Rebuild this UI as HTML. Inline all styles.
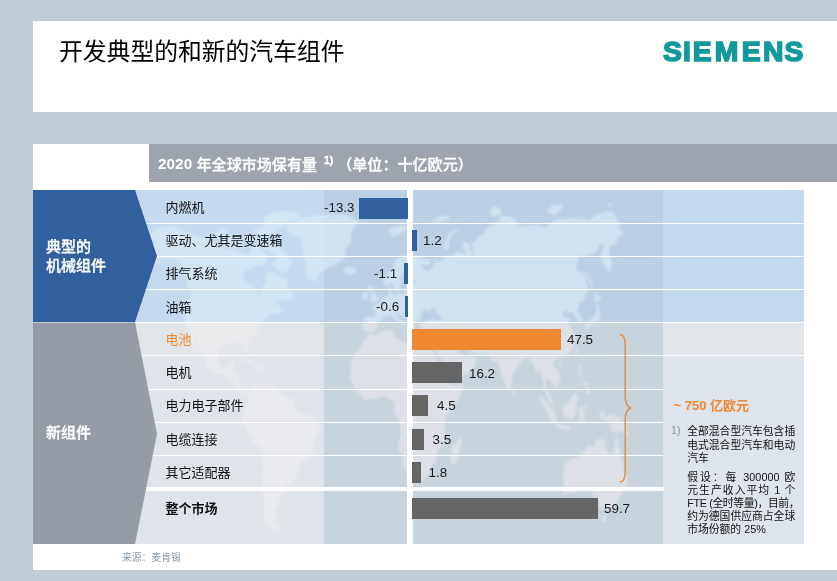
<!DOCTYPE html>
<html lang="zh-CN">
<head>
<meta charset="utf-8">
<title>开发典型的和新的汽车组件</title>
<style>
html,body{margin:0;padding:0;}
body{width:837px;height:581px;overflow:hidden;background:#c0cdd7;position:relative;
  font-family:"Liberation Sans","Noto Sans CJK SC",sans-serif;color:#111;}
.abs{position:absolute;}
#titlebox{left:33px;top:21px;width:804px;height:91px;background:#fff;}
#title{left:59px;top:36px;font-size:23.8px;line-height:32px;white-space:nowrap;color:#000;}
#panel{left:33px;top:144px;width:804px;height:426px;background:#fff;}
#hdr{left:149px;top:144px;width:688px;height:38px;background:#9da4ad;}
#hdrtxt{left:158px;top:155px;font-size:15px;letter-spacing:0.06px;line-height:20px;font-weight:500;-webkit-text-stroke:0.3px #fff;color:#fff;white-space:nowrap;}
#hdrtxt sup{font-size:10.5px;line-height:0;vertical-align:6px;font-weight:bold;margin:0 4px 0 2.5px;}
#hdrtxt b{letter-spacing:0.05px;position:relative;top:-1.2px;-webkit-text-stroke:0;font-size:15.3px;}
.bg{position:absolute;}
.sep{position:absolute;background:#fff;height:1px;left:33px;width:771px;}
.sepm{position:absolute;background:#fff;height:1px;left:33px;width:630px;}
.lab{position:absolute;left:165.5px;font-size:13px;line-height:18px;white-space:nowrap;color:#111;}
.num{position:absolute;font-size:13.4px;line-height:18px;white-space:nowrap;color:#1a1a1a;}
.bar{position:absolute;height:21px;}
.blue{background:#31609e;}
.dark{background:#656565;}
.org{background:#f08832;}
.side{position:absolute;left:46px;font-size:15px;line-height:18.6px;font-weight:500;-webkit-text-stroke:0.3px #fff;color:#fff;white-space:nowrap;}
#notes{left:673.5px;top:397px;color:#f08832;font-weight:bold;font-size:13px;line-height:18px;white-space:nowrap;}
.note{position:absolute;left:687.2px;width:108px;font-size:10.8px;line-height:13.8px;color:#111;}
.note div{white-space:nowrap;text-align:justify;text-align-last:justify;}
.note div.l{text-align-last:left;}
.n2{line-height:13px !important;}
#src{left:122px;top:551.3px;font-size:9.8px;line-height:14px;color:#8a9aa8;white-space:nowrap;}
</style>
</head>
<body>
<div id="titlebox" class="abs"></div>
<div id="title" class="abs">开发典型的和新的汽车组件</div>
<svg id="logo" class="abs" style="left:655px;top:30px;" width="160" height="44" viewBox="0 0 160 44"><text x="7.9 27.9 37.7 59.7 86.8 107.9 129.4" y="30.6" font-family="Liberation Sans, sans-serif" font-weight="bold" font-size="28.3" fill="#11999e" stroke="#11999e" stroke-width="1.6" stroke-linejoin="miter">SIEMENS</text></svg>

<div id="panel" class="abs"></div>
<div id="hdr" class="abs"></div>
<div id="hdrtxt" class="abs"><b>2020 </b>年全球市场保有量 <sup>1)</sup>（单位：十亿欧元）</div>

<!-- chart backgrounds -->
<div class="bg" style="left:33px;top:190px;width:291px;height:132px;background:#c5daee;"></div>
<div class="bg" style="left:324px;top:190px;width:339px;height:132px;background:#bccfe4;"></div>
<div class="bg" style="left:663px;top:190px;width:141px;height:132px;background:#c3d9ed;"></div>
<div class="bg" style="left:33px;top:322px;width:291px;height:222px;background:#dfe4ea;"></div>
<div class="bg" style="left:324px;top:322px;width:339px;height:222px;background:#c7d3dd;"></div>
<div class="bg" style="left:663px;top:322px;width:141px;height:222px;background:#dee4eb;"></div>
<div class="bg" style="left:33px;top:322px;width:291px;height:33px;background:#e2e5e8;"></div>
<div class="bg" style="left:663px;top:322px;width:141px;height:33px;background:#e1e5e9;"></div>

<!-- faint world map -->
<svg class="abs" style="left:0;top:0;" width="837" height="581" viewBox="0 0 837 581">
  <defs>
    <filter id="soft" x="0" y="0" width="837" height="581" filterUnits="userSpaceOnUse"><feGaussianBlur stdDeviation="0.9"/></filter>
    <path id="land" d="M148.6 235.4 L155.3 228.7 L172.4 224.9 L190.5 233.9 L207.6 238.4 L222.4 248.2 L231.7 250.1 L248.6 254.7 L254.0 242.1 L263.5 251.3 L267.7 256.3 L263.4 266.4 L256.6 265.5 L244.6 271.3 L242.6 277.0 L244.4 280.7 L253.5 285.3 L256.3 291.4 L258.3 295.7 L260.2 294.1 L261.9 287.4 L265.6 284.4 L265.7 278.7 L267.9 270.8 L274.6 272.7 L278.2 275.5 L284.4 279.5 L286.2 277.9 L288.0 286.5 L293.1 294.6 L294.0 297.9 L287.5 300.8 L278.5 300.1 L271.2 306.2 L279.4 303.5 L279.3 307.9 L284.3 310.4 L275.9 314.3 L269.7 313.9 L268.3 317.6 L262.3 320.1 L258.0 326.5 L258.0 331.7 L253.5 334.5 L247.9 339.4 L248.1 349.4 L246.8 353.4 L244.7 350.4 L244.3 343.6 L240.8 343.0 L234.6 341.5 L232.6 343.7 L226.2 342.6 L220.6 346.9 L218.6 354.8 L217.9 360.5 L219.7 366.3 L221.9 368.2 L227.0 367.7 L229.2 362.1 L235.1 361.2 L233.6 367.9 L231.4 373.5 L238.9 374.1 L239.3 384.9 L241.3 389.4 L245.5 388.3 L248.8 390.6 L247.8 393.9 L244.5 393.2 L239.5 390.9 L235.5 387.0 L232.6 380.2 L226.9 377.8 L222.3 372.7 L217.3 373.5 L210.9 370.5 L204.9 364.5 L205.0 357.5 L202.0 350.4 L196.9 341.8 L196.4 336.6 L193.5 336.8 L195.5 345.3 L198.1 353.7 L197.8 356.0 L195.4 350.0 L192.4 343.9 L191.2 337.8 L190.3 333.0 L186.1 327.8 L185.1 322.1 L184.1 314.1 L186.3 307.0 L188.8 299.3 L192.0 294.6 L189.7 290.0 L187.3 285.8 L186.6 277.9 L185.4 269.9 L181.7 265.9 L178.7 262.3 L171.5 257.9 L164.2 259.9 L160.8 260.5 L156.0 263.6 L149.0 264.8 L139.6 267.5 L148.1 260.3 L146.6 257.0 L145.2 250.7 L148.8 245.5 L155.8 242.6 L150.5 237.7ZM273.2 240.7 L277.6 244.5 L286.2 253.1 L292.5 262.1 L288.1 269.3 L284.3 273.8 L277.9 270.7 L274.7 266.6 L269.6 264.7 L277.7 260.4 L275.0 254.5 L267.9 250.5 L259.6 246.2 L263.0 239.0ZM224.3 235.8 L234.4 234.8 L240.8 236.2 L243.0 246.2 L236.4 248.9 L225.8 246.7 L220.7 241.5ZM214.0 233.2 L223.5 227.0 L228.6 231.7 L222.4 237.0 L215.3 237.0ZM262.8 230.7 L275.5 232.0 L283.4 225.9 L301.4 216.4 L293.0 210.7 L274.4 211.6 L264.2 216.8ZM255.6 232.6 L263.9 235.9 L274.2 237.0 L275.0 233.6 L261.0 227.6 L254.0 228.9ZM312.8 281.0 L315.7 280.8 L321.1 271.9 L328.4 267.4 L341.0 261.5 L346.6 256.3 L344.3 250.6 L351.0 243.4 L351.4 234.1 L354.0 227.6 L360.1 222.6 L345.1 215.3 L327.8 214.1 L309.9 215.8 L301.1 218.1 L292.9 222.2 L285.8 226.3 L290.2 235.3 L300.1 236.6 L303.0 249.2 L304.1 257.8 L306.8 266.0 L304.6 270.8 L307.6 278.0ZM343.2 269.3 L346.1 266.8 L351.4 267.5 L356.2 267.8 L357.5 270.7 L354.0 273.6 L349.8 274.4 L345.0 273.4ZM238.6 360.2 L243.8 357.7 L250.2 359.6 L255.9 364.9 L250.4 365.3 L249.8 362.9 L245.1 360.5 L240.1 361.0ZM255.1 368.6 L258.2 365.6 L262.8 365.9 L265.2 368.6 L260.8 370.3ZM248.8 390.6 L252.3 385.5 L258.3 382.6 L259.0 385.7 L264.9 384.2 L271.5 386.5 L276.5 386.6 L278.1 390.9 L283.0 396.4 L288.0 396.9 L292.1 399.7 L294.6 406.2 L294.6 409.4 L298.0 411.5 L304.7 414.8 L311.4 415.8 L316.5 420.1 L319.9 424.3 L320.0 428.6 L316.7 434.0 L313.6 441.5 L313.8 447.9 L310.9 456.5 L306.1 458.7 L299.9 464.2 L299.6 470.7 L294.7 479.5 L291.9 484.0 L287.2 484.1 L284.7 483.2 L287.7 488.5 L286.7 492.9 L280.5 494.3 L280.4 498.7 L276.7 500.0 L279.5 502.7 L277.2 507.7 L274.6 510.1 L277.7 514.3 L274.3 520.1 L275.9 524.4 L280.7 529.2 L278.1 530.9 L273.0 528.0 L267.8 525.1 L263.8 517.6 L263.9 510.9 L264.5 501.9 L262.2 493.1 L263.1 484.2 L262.7 475.3 L263.1 464.3 L262.3 451.1 L257.3 445.7 L251.9 440.3 L249.0 433.7 L245.3 426.0 L242.1 420.5 L243.4 413.8 L244.2 408.3 L246.7 405.0 L248.5 400.5 L248.6 393.9ZM349.7 378.2 L351.1 369.1 L350.3 364.8 L353.7 357.4 L357.0 350.6 L361.9 346.8 L362.4 342.6 L366.7 337.7 L368.6 333.5 L374.7 334.7 L382.5 331.2 L393.2 330.0 L395.3 334.9 L394.6 337.7 L402.0 340.5 L408.6 344.2 L410.0 339.9 L414.8 339.4 L424.7 342.8 L430.3 342.2 L433.0 342.1 L430.7 345.2 L433.5 351.2 L436.4 357.6 L439.3 364.0 L442.2 370.4 L445.1 376.9 L450.3 382.2 L451.3 385.0 L457.1 385.0 L463.7 383.1 L463.6 387.5 L459.2 398.5 L453.5 406.1 L448.4 413.3 L445.0 419.1 L444.0 424.6 L445.5 432.2 L446.1 441.9 L438.0 450.0 L436.0 454.7 L436.4 461.2 L432.0 465.4 L430.7 471.4 L427.1 476.1 L421.0 481.9 L412.9 482.6 L409.6 483.8 L407.1 482.0 L406.8 477.7 L404.8 470.2 L402.7 464.8 L402.2 456.3 L398.3 447.7 L398.5 441.3 L401.4 435.0 L400.4 427.5 L398.8 421.1 L393.8 411.5 L394.6 401.9 L390.4 400.3 L386.2 396.2 L380.3 396.7 L375.3 399.2 L370.2 398.8 L366.0 400.1 L361.8 396.2 L356.8 391.4 L353.5 386.1ZM460.9 435.6 L462.1 443.3 L459.4 450.9 L456.0 462.9 L451.7 464.9 L449.7 459.4 L451.6 451.8 L452.4 444.7 L456.7 442.1ZM363.6 318.2 L365.1 316.7 L374.3 317.1 L375.3 311.8 L370.0 306.9 L374.8 306.0 L374.8 303.9 L379.2 302.8 L382.8 299.4 L384.1 296.4 L388.4 295.0 L388.6 291.4 L388.3 288.2 L391.5 286.6 L391.7 290.2 L390.9 292.4 L392.8 294.4 L397.2 294.3 L403.6 292.6 L405.8 292.9 L406.8 288.6 L407.2 286.4 L410.9 286.9 L409.6 282.6 L415.8 281.2 L418.5 280.4 L411.4 280.4 L408.0 281.0 L406.1 277.8 L405.4 274.4 L409.9 269.3 L408.3 267.4 L405.7 268.3 L404.7 272.0 L400.4 276.9 L400.3 279.8 L402.8 281.7 L399.9 284.6 L399.6 289.5 L397.2 291.1 L395.4 291.2 L392.7 284.8 L391.2 283.4 L387.8 286.1 L384.2 284.7 L383.2 279.8 L383.1 277.5 L387.0 274.0 L390.9 270.8 L393.2 266.5 L395.4 261.2 L399.7 257.4 L406.0 254.5 L411.7 253.3 L416.0 255.7 L419.0 257.4 L429.0 260.6 L430.9 263.8 L427.8 265.4 L421.5 264.7 L423.8 269.8 L427.5 270.9 L430.6 269.0 L435.1 264.2 L433.9 258.2 L438.7 261.7 L447.2 256.6 L454.8 254.2 L454.7 251.3 L462.7 253.0 L466.6 254.4 L462.0 245.7 L463.3 240.8 L469.8 244.4 L471.7 253.0 L474.6 255.4 L471.9 242.4 L475.8 241.7 L477.6 236.5 L485.3 233.2 L484.0 229.4 L496.5 222.5 L502.1 215.7 L514.0 218.0 L518.5 225.6 L527.3 226.0 L538.3 224.6 L544.4 228.3 L554.9 219.4 L569.5 218.3 L585.2 218.7 L587.7 220.5 L598.3 213.9 L606.5 211.6 L613.4 212.2 L620.6 224.6 L618.5 227.9 L624.2 233.3 L617.6 238.9 L615.8 244.4 L609.9 245.5 L609.0 252.7 L610.5 258.5 L612.4 262.0 L611.6 266.7 L610.3 269.1 L609.6 273.7 L602.5 263.5 L600.5 258.0 L601.8 251.6 L604.3 243.0 L599.4 244.4 L596.6 250.9 L595.0 252.5 L590.5 254.6 L578.7 256.7 L577.6 262.2 L576.3 271.0 L580.5 271.5 L583.9 273.6 L586.1 280.1 L588.1 286.7 L587.2 292.3 L585.3 298.0 L582.6 301.7 L579.5 303.0 L579.1 307.0 L576.9 311.2 L581.6 317.1 L582.9 320.8 L580.6 323.1 L578.8 323.8 L577.3 317.6 L574.3 315.9 L573.3 311.7 L568.7 313.5 L565.7 309.3 L562.5 314.3 L565.1 317.8 L570.9 317.9 L568.1 322.5 L571.7 329.7 L574.6 334.4 L574.4 340.7 L573.2 347.0 L570.1 352.2 L565.7 355.5 L560.4 358.5 L556.9 357.5 L554.2 361.7 L553.5 365.4 L558.9 372.3 L561.0 379.5 L557.6 384.4 L554.5 388.7 L554.2 384.4 L549.7 381.0 L546.7 378.3 L545.4 383.5 L546.5 389.4 L549.8 395.2 L552.5 399.9 L553.5 405.8 L549.2 402.8 L547.3 396.4 L544.6 390.6 L543.3 384.7 L541.2 374.2 L540.0 370.3 L535.5 372.1 L534.4 365.6 L529.9 360.0 L528.6 357.2 L524.7 358.6 L521.7 360.6 L518.8 364.7 L515.1 371.7 L512.0 375.2 L512.4 380.9 L511.6 386.0 L508.7 391.0 L506.7 387.9 L503.7 381.2 L501.1 373.3 L498.7 365.5 L498.0 361.0 L494.5 362.3 L491.7 359.4 L487.8 354.0 L479.5 353.5 L472.1 353.1 L470.0 349.9 L464.3 350.1 L459.6 344.8 L456.3 343.8 L455.7 346.0 L459.6 351.4 L462.5 355.7 L466.7 356.2 L469.8 352.1 L471.0 355.4 L476.6 359.6 L474.9 364.7 L473.6 368.6 L469.7 372.0 L464.9 374.3 L459.3 378.8 L453.6 381.5 L451.1 381.8 L449.6 376.8 L446.3 369.3 L442.5 362.8 L439.6 356.4 L434.9 348.9 L434.3 345.7 L433.1 341.9 L434.6 337.0 L434.8 331.6 L434.6 330.1 L430.0 331.4 L426.0 331.5 L422.0 330.6 L419.3 326.8 L418.9 323.6 L422.6 321.3 L426.4 320.7 L431.7 318.7 L436.6 320.7 L441.9 319.3 L441.5 316.5 L437.2 313.7 L434.5 311.4 L436.2 307.2 L430.5 310.1 L428.6 313.4 L427.4 310.2 L423.6 310.0 L421.4 313.8 L420.8 319.2 L418.0 321.9 L414.9 322.0 L413.5 323.8 L415.1 328.0 L414.1 331.2 L412.0 330.2 L410.5 326.0 L407.9 322.9 L407.7 319.6 L402.0 316.6 L398.4 313.5 L397.8 312.0 L396.1 312.9 L396.6 315.7 L399.1 318.8 L402.3 320.2 L406.4 323.5 L404.0 323.0 L403.5 326.2 L402.8 328.3 L402.2 326.4 L402.1 324.1 L399.3 322.4 L396.9 321.0 L393.6 317.9 L390.8 314.9 L388.1 316.5 L383.5 317.0 L382.1 319.6 L378.3 323.0 L377.2 326.6 L376.9 328.7 L374.6 331.3 L369.9 332.6 L367.8 331.3 L363.5 330.9 L362.8 327.1 L363.9 322.4ZM368.8 303.3 L372.5 302.0 L378.7 300.7 L379.3 297.5 L377.0 295.8 L374.5 292.7 L373.7 290.6 L373.6 287.0 L370.7 287.0 L372.1 285.1 L369.3 285.1 L367.6 288.5 L369.1 291.7 L371.9 293.1 L372.4 296.1 L370.0 296.5 L370.6 298.7 L369.2 299.5 L372.2 300.3ZM362.1 299.7 L365.0 299.9 L367.5 298.7 L368.0 295.9 L368.2 293.8 L365.7 292.1 L362.4 294.4 L362.1 296.3 L362.8 298.0ZM387.8 230.4 L393.6 226.7 L404.2 224.9 L407.2 229.0 L399.2 234.6 L393.3 237.2ZM442.9 250.0 L449.4 249.1 L448.9 241.6 L452.4 234.6 L459.4 229.0 L456.1 228.9 L448.3 233.6 L444.4 242.2ZM593.3 291.2 L592.3 283.1 L588.1 275.5 L584.8 269.7 L585.1 273.3 L588.9 281.0 L591.9 288.7ZM587.0 331.4 L589.2 330.4 L588.8 325.8 L593.7 324.7 L595.8 321.5 L599.9 320.0 L600.0 315.1 L599.7 310.6 L599.3 307.2 L597.2 303.4 L595.6 304.5 L596.2 307.6 L597.0 312.4 L593.9 315.4 L593.7 317.3 L588.7 320.1 L586.5 323.5 L585.3 326.4ZM594.7 303.3 L596.0 300.4 L599.3 301.2 L601.4 297.3 L598.8 295.8 L593.8 292.5 L594.7 296.5 L593.8 298.8ZM575.7 353.6 L577.3 355.4 L577.6 349.2 L576.6 347.3 L575.5 349.9ZM558.1 363.5 L559.8 365.8 L561.2 364.3 L561.7 362.0 L559.9 361.2ZM512.2 387.3 L514.7 390.0 L515.8 393.4 L514.6 395.5 L512.9 395.7 L512.4 391.2ZM538.6 396.3 L542.3 397.2 L547.2 403.5 L552.6 409.4 L556.8 416.5 L556.2 423.2 L554.0 423.2 L550.0 418.8 L546.7 412.9 L544.2 405.9 L539.9 400.7ZM555.1 425.6 L557.4 423.7 L560.7 424.9 L564.9 425.0 L568.2 426.3 L570.6 428.3 L570.1 430.4 L564.6 429.3 L559.7 428.0 L556.4 427.2ZM561.9 405.8 L565.2 405.1 L568.5 401.7 L571.7 397.3 L574.5 392.4 L578.4 396.7 L576.4 402.1 L577.0 407.0 L576.2 411.8 L573.9 418.6 L571.0 419.1 L566.8 417.6 L563.8 416.6 L562.7 411.1ZM579.5 407.4 L582.0 406.5 L588.4 405.7 L586.3 408.7 L581.7 408.4 L582.9 411.8 L585.4 411.9 L584.0 416.8 L585.2 421.7 L583.2 421.2 L581.6 416.7 L580.7 423.1 L579.2 422.8 L579.4 418.0 L578.7 414.3ZM598.9 411.4 L603.9 411.4 L605.5 417.7 L610.6 413.7 L615.6 416.1 L621.4 419.7 L623.7 423.7 L626.2 425.0 L625.2 427.6 L630.3 436.9 L625.4 435.4 L621.7 430.1 L618.1 432.6 L614.7 433.0 L611.6 430.3 L610.1 427.2 L610.3 423.4 L606.2 420.8 L602.1 419.5 L600.5 416.4ZM578.4 370.2 L578.4 364.0 L580.7 363.9 L581.1 369.3 L580.9 374.5 L585.4 377.3 L585.2 378.1 L580.2 375.8 L578.6 373.4ZM583.3 392.2 L585.5 388.4 L588.3 385.4 L590.7 390.8 L590.1 393.8 L588.9 395.0 L586.7 393.4 L585.7 390.7ZM582.7 383.6 L584.1 381.1 L587.5 381.4 L588.5 383.9 L586.1 385.2 L583.7 386.0ZM564.5 462.5 L565.9 462.1 L571.0 459.2 L574.8 458.2 L579.3 456.0 L581.3 451.7 L583.2 452.5 L586.4 447.7 L589.3 444.1 L591.6 446.2 L594.0 446.9 L595.5 441.4 L597.3 440.0 L600.0 438.3 L604.0 440.2 L607.0 440.4 L604.0 447.4 L607.0 450.1 L609.7 454.1 L611.9 454.2 L614.3 447.9 L614.7 441.5 L616.9 436.9 L618.1 441.6 L617.8 446.8 L620.1 448.2 L620.5 454.8 L620.4 458.7 L623.4 462.1 L624.0 467.7 L625.5 471.0 L627.7 476.1 L626.9 483.8 L624.1 491.1 L619.7 497.4 L616.5 502.4 L613.9 507.5 L610.1 508.1 L606.8 510.6 L604.7 508.1 L601.8 509.3 L598.6 506.7 L598.6 501.3 L597.8 497.2 L598.1 493.3 L594.0 497.6 L593.3 497.2 L592.4 491.9 L588.4 488.3 L585.1 488.5 L579.8 489.4 L576.0 491.6 L574.7 493.2 L569.1 492.6 L565.3 494.7 L561.3 492.5 L563.5 487.0 L563.6 482.1 L563.5 474.7 L563.7 469.8ZM602.7 514.6 L605.1 516.1 L608.0 516.3 L605.6 521.4 L603.1 522.6 L601.9 520.2ZM489.4 214.3 L492.9 205.5 L500.9 209.1 L501.7 214.7 L494.3 216.7ZM430.6 222.1 L439.1 216.1 L450.2 215.9 L448.7 219.8 L436.8 222.6ZM546.7 211.5 L551.3 205.8 L562.5 204.6 L563.0 208.6 L554.4 215.2ZM607.4 206.2 L609.7 203.1 L612.6 204.1 L610.2 206.8Z"/>
    <clipPath id="c1"><rect x="136" y="203" width="188" height="119"/></clipPath>
    <clipPath id="c2"><rect x="324" y="203" width="339" height="119"/></clipPath>
    <clipPath id="c3"><rect x="136" y="322" width="188" height="222"/></clipPath>
    <clipPath id="c4"><rect x="324" y="322" width="339" height="222"/></clipPath>
  </defs>
  <g clip-path="url(#c1)"><use href="#land" fill="#eefcff" fill-opacity="0.32" filter="url(#soft)"/></g>
  <g clip-path="url(#c2)"><use href="#land" fill="#eefcff" fill-opacity="0.4" filter="url(#soft)"/></g>
  <g clip-path="url(#c3)"><use href="#land" fill="#fcf6f6" fill-opacity="0.32" filter="url(#soft)"/></g>
  <g clip-path="url(#c4)"><use href="#land" fill="#fcf4f4" fill-opacity="0.4" filter="url(#soft)"/></g>
</svg>

<!-- separators -->
<div class="sep" style="top:223px;"></div>
<div class="sep" style="top:256px;"></div>
<div class="sep" style="top:289px;"></div>
<div class="sep" style="top:322px;"></div>
<div class="sep" style="top:355px;"></div>
<div class="sepm" style="top:389px;"></div>
<div class="sepm" style="top:422px;"></div>
<div class="sepm" style="top:455px;"></div>
<div class="sepm" style="top:487px;height:4px;width:631px;"></div>
<div class="bg" style="left:407px;top:190px;width:6px;height:354px;background:#fff;"></div>

<!-- side arrows -->
<svg class="abs" style="left:33px;top:190px;" width="130" height="354" viewBox="0 0 130 354">
  <polygon points="0,0 102,0 124,66 102,132 0,132" fill="#31609e"/>
  <polygon points="0,132 102,132 124,244 102,354 0,354" fill="#969ca6"/>
  <rect x="0" y="132" width="102" height="1" fill="#ffffff" fill-opacity="0.45"/>
</svg>
<div class="side" style="top:238.2px;">典型的<br>机械组件</div>
<div class="side" style="top:424.4px;">新组件</div>

<!-- labels -->
<div class="lab" style="top:198.5px;">内燃机</div>
<div class="lab" style="top:232px;">驱动、尤其是变速箱</div>
<div class="lab" style="top:264.5px;">排气系统</div>
<div class="lab" style="top:299px;">油箱</div>
<div class="lab" style="top:331px;color:#f08832;">电池</div>
<div class="lab" style="top:364.3px;">电机</div>
<div class="lab" style="top:397.3px;">电力电子部件</div>
<div class="lab" style="top:431px;">电缆连接</div>
<div class="lab" style="top:464px;">其它适配器</div>
<div class="lab" style="top:499.5px;font-weight:bold;">整个市场</div>

<!-- bars -->
<div class="bar blue" style="left:359px;top:198px;width:49px;"></div>
<div class="bar blue" style="left:412px;top:230px;width:5px;"></div>
<div class="bar blue" style="left:404px;top:263px;width:4px;"></div>
<div class="bar blue" style="left:405px;top:296px;width:3px;"></div>
<div class="bar org" style="left:412px;top:329px;width:149px;"></div>
<div class="bar dark" style="left:412px;top:362px;width:50px;"></div>
<div class="bar dark" style="left:412px;top:395px;width:16px;"></div>
<div class="bar dark" style="left:412px;top:429px;width:12px;"></div>
<div class="bar dark" style="left:412px;top:462px;width:9px;"></div>
<div class="bar dark" style="left:412px;top:498px;width:186px;"></div>

<!-- numbers -->
<div class="num" style="left:324px;top:199px;">-13.3</div>
<div class="num" style="left:423px;top:232px;">1.2</div>
<div class="num" style="left:374px;top:265px;">-1.1</div>
<div class="num" style="left:376px;top:298px;">-0.6</div>
<div class="num" style="left:567px;top:331px;">47.5</div>
<div class="num" style="left:469px;top:364.7px;">16.2</div>
<div class="num" style="left:437px;top:397px;">4.5</div>
<div class="num" style="left:432.5px;top:431px;">3.5</div>
<div class="num" style="left:428.5px;top:464px;">1.8</div>
<div class="num" style="left:604px;top:500px;">59.7</div>

<!-- brace -->
<svg class="abs" style="left:615px;top:330px;" width="24" height="158" viewBox="0 0 24 158">
  <path d="M5 4.8 C9 5 10.2 8 10.2 14 L10.2 66 C10.2 74 12 77 16 78 C12 79 10.2 82 10.2 90 L10.2 142 C10.2 148 9 151.5 5 152" fill="none" stroke="#f08832" stroke-width="1.4"/>
</svg>

<div id="notes" class="abs">~ 750 亿欧元</div>
<div class="note" style="left:671px;top:424px;color:#8a96a3;width:auto;">1)</div>
<div class="note" style="top:424.8px;"><div>全部混合型汽车包含插</div><div>电式混合型汽车和电动</div><div class="l">汽车</div></div>
<div class="note n2" style="top:470.7px;"><div>假设：每 300000 欧</div><div>元生产收入平均 1 个</div><div style="letter-spacing:-0.35px;">FTE (全时等量)，目前，</div><div>约为德国供应商占全球</div><div class="l">市场份额的 25%</div></div>

<div id="src" class="abs">来源：麦肯锡</div>
</body>
</html>
